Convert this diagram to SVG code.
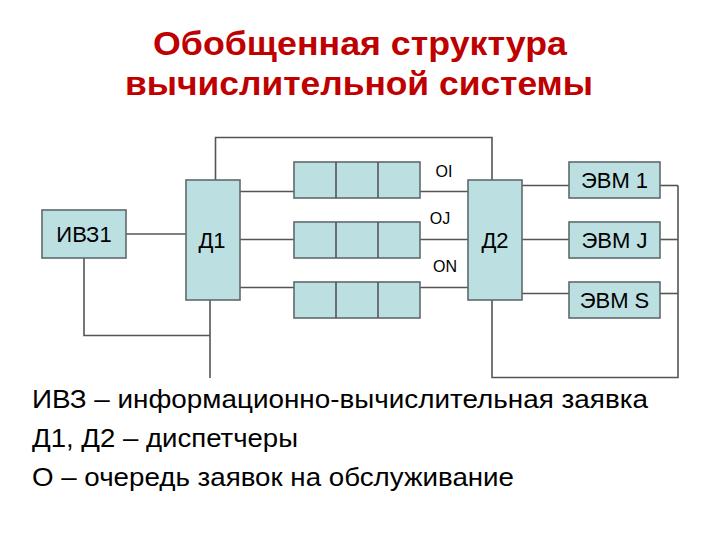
<svg xmlns="http://www.w3.org/2000/svg" width="720" height="540" viewBox="0 0 720 540">
<style>
.box{fill:#BCDFE2;stroke:#5F6A6B;stroke-width:1.6}
.ln{fill:none;stroke:#555;stroke-width:1.6}
.t{font-family:"Liberation Sans",Arial,sans-serif;font-size:22px;fill:#000;text-anchor:middle}
.s{font-family:"Liberation Sans",Arial,sans-serif;font-size:16px;fill:#000;text-anchor:middle}
.title{font-family:"Liberation Sans",Arial,sans-serif;font-size:34px;font-weight:bold;fill:#BF0000}
.leg{font-family:"Liberation Sans",Arial,sans-serif;font-size:26.5px;fill:#000}
</style>
<rect width="720" height="540" fill="#fff"/>
<text class="title" x="153" y="55" textLength="414" lengthAdjust="spacingAndGlyphs">Обобщенная структура</text>
<text class="title" x="125" y="95" textLength="468" lengthAdjust="spacingAndGlyphs">вычислительной системы</text>
<g id="connectors">
<polyline class="ln" points="215.5,180 215.5,137.5 492,137.5 492,180"/>
<line class="ln" x1="126" y1="234" x2="186" y2="234"/>
<polyline class="ln" points="84,258 84,335.5 210,335.5"/>
<line class="ln" x1="210" y1="300" x2="210" y2="378"/>
<line class="ln" x1="240" y1="191.5" x2="294" y2="191.5"/>
<line class="ln" x1="240" y1="239.5" x2="294" y2="239.5"/>
<line class="ln" x1="240" y1="287.5" x2="294" y2="287.5"/>
<line class="ln" x1="420" y1="191.5" x2="468" y2="191.5"/>
<line class="ln" x1="420" y1="239.5" x2="468" y2="239.5"/>
<line class="ln" x1="420" y1="287.5" x2="468" y2="287.5"/>
<line class="ln" x1="522" y1="185.5" x2="569" y2="185.5"/>
<line class="ln" x1="522" y1="239.5" x2="569" y2="239.5"/>
<line class="ln" x1="522" y1="293.5" x2="569" y2="293.5"/>
<line class="ln" x1="660" y1="185.5" x2="678" y2="185.5"/>
<line class="ln" x1="660" y1="239.5" x2="678" y2="239.5"/>
<line class="ln" x1="660" y1="293.5" x2="678" y2="293.5"/>
<polyline class="ln" points="678,185.5 678,377.5 492,377.5 492,300"/>
</g>
<g id="ivz1"><rect class="box" x="42" y="210" width="84" height="48"/><text class="t" x="84" y="242">ИВЗ1</text></g>
<g id="d1"><rect class="box" x="186" y="180" width="54" height="120"/><text class="t" x="212" y="248">Д1</text></g>
<g id="d2"><rect class="box" x="468" y="180" width="54" height="120"/><text class="t" x="495" y="248">Д2</text></g>
<g id="q1"><rect class="box" x="294" y="162" width="126" height="36"/><line class="ln" x1="336" y1="162" x2="336" y2="198"/><line class="ln" x1="378" y1="162" x2="378" y2="198"/></g>
<g id="q2"><rect class="box" x="294" y="222" width="126" height="36"/><line class="ln" x1="336" y1="222" x2="336" y2="258"/><line class="ln" x1="378" y1="222" x2="378" y2="258"/></g>
<g id="q3"><rect class="box" x="294" y="282" width="126" height="36"/><line class="ln" x1="336" y1="282" x2="336" y2="318"/><line class="ln" x1="378" y1="282" x2="378" y2="318"/></g>
<g id="labels">
<text class="s" x="444" y="177">OI</text>
<text class="s" x="440" y="224">OJ</text>
<text class="s" x="445" y="272">ON</text>
</g>
<g id="evm1"><rect class="box" x="569" y="162" width="91" height="36"/><text class="t" x="614.5" y="188">ЭВМ 1</text></g>
<g id="evmj"><rect class="box" x="569" y="222" width="91" height="36"/><text class="t" x="614.5" y="248">ЭВМ J</text></g>
<g id="evms"><rect class="box" x="569" y="282" width="91" height="36"/><text class="t" x="614.5" y="308">ЭВМ S</text></g>
<text class="leg" x="32" y="408" textLength="616" lengthAdjust="spacingAndGlyphs">ИВЗ – информационно-вычислительная заявка</text>
<text class="leg" x="32" y="447" textLength="266" lengthAdjust="spacingAndGlyphs">Д1, Д2 – диспетчеры</text>
<text class="leg" x="32" y="486" textLength="482" lengthAdjust="spacingAndGlyphs">О – очередь заявок на обслуживание</text>
</svg>
